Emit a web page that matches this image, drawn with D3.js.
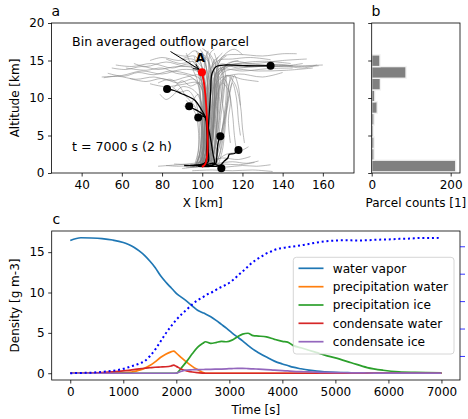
<!DOCTYPE html>
<html><head><meta charset="utf-8">
<script src="https://cdn.jsdelivr.net/npm/d3@7"></script>
<style>
html,body{margin:0;padding:0;background:#fff;}
svg text{font-family:"DejaVu Sans",sans-serif;fill:#000;}
</style></head>
<body><svg id="c" width="468" height="419"></svg>
<script>
// ---------------- DATA ----------------
// Panel a: parcel trajectories [X km, altitude km]
const grayTraj = [
 [[96,1],[100,1.2],[102,4],[102,8],[101,12],[98,13.5],[90,13.8],[80,13.2],[70,13.6],[60,13],[50,12.8]],
 [[92,0.8],[99,1],[100,5],[100.5,9],[99,13],[94,14.5],[85,14],[75,14.6],[65,14.2],[57,14.4]],
 [[98,1.1],[101,3],[101,7],[100,11],[96,12.5],[88,12],[80,12.6],[72,12.2],[64,12.6]],
 [[95,0.9],[101,1.3],[103,6],[102,10],[100,14],[95,15.2],[88,15],[80,15.4],[74,15]],
 [[100,1],[103,4],[104,9],[103,13],[99,15.8],[96,16.3],[92,15.6],[86,15.9]],
 [[99,1],[101,5],[100,9],[96,11],[90,11.5],[86,10.5],[82,9.8],[79,10.5]],
 [[97,1.2],[100,4],[99,7],[96,9],[92,10.2],[88,11.8],[84,12.5],[78,12]],
 [[94,1],[99,1.5],[101,6],[101,10],[99,12.5],[93,13.2],[84,13.6],[76,13.1],[68,13.4],[61,12.9],[53,13.3]],
 [[97,0.9],[102,2],[103,7],[102,11.5],[98,14],[90,14.3],[82,14.8],[72,14.2],[66,14.6]],
 [[99,1.1],[102,5],[102,10],[99,12],[94,11.6],[90,12.3],[86,11.4]],
 [[96,1],[100,3],[100,8],[98,10.5],[95,9.5],[93,8.5],[91,9]],
 [[101,1],[102,6],[101.5,11],[99,13],[92,12.8],[85,12.3],[76,12.8],[67,12.5],[58,12.9],[51,12.7]],
 [[100,1],[101,5],[101,10],[98,12],[90,11.8],[82,11.5],[74,11.9]],
 [[99,1],[100,6],[100,11],[97,13.8],[88,14.2],[78,13.8],[70,14.2],[62,13.8],[55,14]],
 [[98,1],[99.5,5],[99,9],[97.5,12],[93,13],[87,13.3],[80,14],[72,13.7],[62,14]],
 [[100,0.9],[101,4],[101,9],[100,13],[96,14.8],[89,14.6],[82,15.2]],
 [[99,1.2],[100,4],[100.5,8],[101,12],[99.5,14.5],[96,15.6],[90,15.2]],
 [[97,1],[98.5,4],[98,8],[96,10],[93,11],[89,10.8],[85,11.5]],
 [[96,0.9],[98,3],[98,6],[96.5,8],[94,9],[92,9.7]],
 [[101,1],[104,3],[105,8],[106,12],[110,14],[120,14.4],[135,14.2],[150,14.3],[160,14.4]],
 [[100,1.2],[104,5],[106,10],[108,13],[115,14.8],[125,14.6],[140,15],[152,15.2]],
 [[103,1],[106,4],[107,9],[109,13],[114,13.8],[128,13.6],[142,13.7],[155,14]],
 [[99,0.9],[102,3],[104,8],[105,13],[110,15.5],[118,15.8],[130,15.6],[140,15.9],[147,15.9]],
 [[104,1.1],[107,5],[108,10],[110,12.5],[118,13.2],[130,12.8],[140,13.4]],
 [[102,1],[105,6],[107,11],[108,14.5],[112,16],[116,16.5],[120,15.8]],
 [[101,0.8],[104,4],[106,9],[107,13.5],[113,14.2],[124,14.1],[138,14.5],[148,14.2],[158,14.3]],
 [[102,1.2],[105,5],[106,11],[108,13.8],[116,14.5],[130,14.9],[144,14.6]],
 [[103,1],[105,5],[107,10],[108,13],[114,14.3],[126,14.2],[138,14.4],[150,14],[157,14.4]],
 [[104,1],[106,6],[108,11],[109,13.8],[117,14.6],[130,14.4],[145,14.3]],
 [[101,1],[102.5,5],[103,10],[103.5,13.5],[108,15],[115,15.2],[124,15.4],[134,15.1]],
 [[102,1.1],[104,5],[105,9],[106,12.8],[110,13.8],[120,13.6],[132,13.9],[145,14]],
 [[103,0.9],[105,4],[106.5,9],[107,12],[112,13],[120,12.5],[128,12.2]],
 [[104,1],[105.5,5],[106,9],[106.5,13],[109,14.5],[118,14],[128,14.4],[138,14.2],[150,14.6]],
 [[98,1],[101,4],[102,9],[103,13],[104,16],[106,16.5]],
 [[100,0.8],[103,5],[103,10],[102,14],[100,16.2]],
 [[105,1],[107,6],[108,11],[107,14],[104,15.8],[100,16.6]],
 [[96,1],[100,2],[100,7],[98,12],[95,14],[92,16]],
 [[99,1],[102,3],[103,8],[104,12],[105,14.5],[108,15.5]],
 [[101,1.1],[103,6],[104,11],[103,14.8],[101,15.5]],
 [[97,0.8],[99,3],[100,7],[100,12],[97,14.2],[95,15]],
 [[103,0.9],[105,4],[106,8],[106,12],[107,15],[110,16]],
 [[100,1],[102,4],[101.5,8],[102.5,12],[101,14.5],[103,16.3]],
 [[102,1],[104,5],[105,10],[104.5,13],[106,15.2]],
 [[97,1],[99,3],[99.5,7],[99,11],[98,13.5],[96,15.5]],
 [[98,0.9],[100,2],[101,6],[101.5,10],[100.5,13],[99,15],[97,16.3]],
 [[100,1.1],[101.5,4],[102,7],[103,11],[104,14],[102,16]],
 [[101,1],[103,3],[104,7],[105,10],[106,13],[104,15.5],[101,16.4]],
 [[102,0.9],[104,3],[105.5,7],[106.5,10.5],[107,13.5],[109,15],[112,15.6]],
 [[103,1.1],[105,4],[106,8],[107.5,11.5],[108,14],[106,16]],
 [[104,1],[106,3],[107,6],[108,10],[109.5,13],[112,14.5],[118,15]],
 [[105,1.2],[107,4],[108.5,7],[109.5,10],[110,12],[111,14]],
 [[106,1],[108,4],[109,7],[110.5,10],[111,12],[109,14.2]],
 [[107,1],[109,3],[110,6],[111.5,9],[112,12],[111,14]],
 [[108,1.1],[110,3],[111,5],[112,8],[113,11],[114,13]],
 [[100,1],[102,3],[103,6],[104,10],[105,12],[104,14],[102,15.5],[98,16]],
 [[99,1],[100.5,3],[101,6],[102,9],[102.5,12],[101.5,15],[99,16.5]],
 [[103,1],[106,3],[108,8],[110,12],[113,11],[115,8],[116,5],[117,3]],
 [[104,1],[107,4],[109,9],[112,13],[116,12],[119,9],[120,6],[121,4]],
 [[102,1.2],[105,5],[107,10],[111,12.5],[114,10],[113,7],[114,4]],
 [[106,1],[108,3],[110,6],[112,9],[113,11.5],[115,13]],
 [[105,0.9],[108,2],[110,4],[111,7],[110,10],[112,12.8]],
 [[105,1],[108,4],[111,7],[113,10],[115,12],[117,10],[118,7],[119,5]],
 [[106,1.2],[109,4],[112,8],[114,11],[116,13],[118,11.5],[119,9]],
 [[82,1.0],[88,0.9],[95,1.0],[100,1.1],[108,1.3],[115,1.5],[122,1.3],[128,1.6]],
 [[90,0.6],[97,0.8],[104,0.9],[112,0.8],[120,1.0],[127,0.9],[134,1.1]],
 [[95,0.3],[105,0.4],[115,0.3],[125,0.4],[135,0.2]],
 [[78,0.9],[88,1.1],[96,1.3],[103,1.6],[110,2],[118,1.8],[124,2.2]],
 [[100,1],[106,1.5],[112,2.5],[118,2.8],[123,3.5]],
 [[86,1.2],[94,1.1],[102,1.0],[110,1.2],[118,1.1],[126,1.4]]
];
const blackTraj = [
 [[94,1.0],[99,1.1],[101.5,1.4],[102.5,4],[103.5,8],[104.2,11],[104.8,13.2],[107,14.2],[112,14.4],[122,14.3],[134,14.3]],
 [[82.5,11.2],[86,11],[89.5,10.6],[93,10.2],[96.3,9.7],[99.7,8.4],[101.5,7.5],[102.5,6.5],[103.6,5.3],[104.5,4],[105.3,2.6],[106,1.2],[104,0.9],[98,0.9]],
 [[93.5,8.9],[95.5,8.6],[98.3,8.2],[100.5,7.8],[102,7.2],[102.7,5],[103,3],[103,1.5],[101,1.0]],
 [[98,7.4],[100,7.6],[101.5,7.4],[102.2,6],[102.4,3],[102,1.4],[100,1.0]],
 [[109,4.9],[108,4.2],[107.5,3.2],[107.2,2.0],[106.8,1.3],[104,1.0],[99,0.9]],
 [[118,3.07],[116,2.6],[113.5,2.5],[112.7,2.0],[111,1.6],[110,1.3],[109,1.0],[107,0.9],[102,0.9],[97,1.0]],
 [[109.5,0.62],[108.5,0.9],[107,1.1],[105.5,1.3],[102,1.1],[96,1.0],[91,1.0]]
];
const blackEnds = [[134,14.3],[82.5,11.2],[93.5,8.9],[98,7.4],[109,4.9],[118,3.07],[109.5,0.62]];
const redTraj = [[99.85,13.43],[100.9,11.96],[102,8.85],[102.6,5.3],[102.5,2.6],[101.5,1.2],[99.85,0.82]];
const redEnd = [99.85,13.43];
const xTicksA = [40,60,80,100,120,140,160];
const yTicksA = [0,5,10,15,20];

// Panel b: histogram of parcel altitudes
const binEdges = [0.15,1.71,3.27,4.83,6.39,7.95,9.51,11.07,12.63,14.19,15.75];
const binCounts = [213,6,6,4,6,14,8,22,87,21];
const xTicksB = [0,200];

// Panel c: densities [g m-3] vs time [s]
const time = [0,200,400,600,800,1000,1100,1200,1300,1400,1500,1600,1700,1800,1900,1950,2000,2100,2200,2300,2400,2500,2550,2650,2750,2850,2950,3050,3150,3250,3350,3450,3550,3700,3850,4000,4100,4200,4350,4500,4650,4800,5000,5300,5600,5900,6200,6500,7000];
const waterVapor = [16.45,16.78,16.75,16.67,16.5,16.2,15.95,15.6,15.15,14.6,13.9,13.1,12.1,11.3,10.6,10.25,9.9,9.4,8.9,8.35,7.8,7.5,7.35,7.0,6.55,6.05,5.55,5.0,4.5,4.0,3.45,2.95,2.55,2.0,1.5,1.15,0.95,0.75,0.55,0.38,0.25,0.17,0.1,0.06,0.04,0.03,0.03,0.02,0.02];
const precipWater = [0,0,0,0,0,0.05,0.1,0.2,0.38,0.6,0.95,1.4,1.95,2.35,2.65,2.75,2.5,1.9,1.35,0.85,0.45,0.1,0,0,0,0,0,0,0,0,0,0,0,0,0,0,0,0,0,0,0,0,0,0,0,0,0,0,0];
const precipIce = [0,0,0,0,0,0,0,0,0,0,0,0,0,0,0,0,0,0.7,1.5,2.4,3.2,3.7,3.9,3.7,3.8,3.95,3.9,4.1,4.5,4.85,4.95,4.65,4.6,4.5,4.2,3.95,3.85,3.45,3.15,2.85,2.55,2.25,1.9,1.3,0.7,0.37,0.17,0.1,0.05];
const condWater = [0,0,0.02,0.08,0.16,0.28,0.36,0.45,0.54,0.62,0.68,0.74,0.77,0.8,0.9,1.0,0.85,0.5,0.3,0.15,0.07,0.02,0,0,0,0,0,0,0,0,0,0,0,0,0,0,0,0,0,0,0,0,0,0,0,0,0,0,0];
const condIce = [0,0,0,0,0,0,0,0,0,0,0,0,0,0,0,0,0.02,0.25,0.4,0.43,0.45,0.46,0.47,0.48,0.5,0.52,0.55,0.58,0.6,0.6,0.58,0.55,0.5,0.45,0.38,0.32,0.28,0.24,0.2,0.17,0.13,0.1,0.07,0.05,0.03,0.02,0.02,0.01,0.01];
const dottedTime = [0,200,400,600,800,1000,1100,1200,1300,1400,1500,1600,1700,1800,1900,2000,2100,2200,2300,2400,2500,2600,2700,2800,2900,3000,3100,3200,3300,3400,3500,3600,3700,3800,3900,4000,4200,4400,4600,4800,5000,5200,5400,5600,5800,6000,6200,6400,6600,6800,7000];
const dottedVals = [0.37,0.38,0.39,0.42,0.46,0.53,0.59,0.65,0.72,0.81,0.99,1.23,1.52,1.82,2.08,2.32,2.52,2.70,2.88,3.03,3.14,3.26,3.35,3.47,3.56,3.67,3.82,4.00,4.17,4.35,4.50,4.62,4.74,4.82,4.90,4.94,4.99,5.05,5.12,5.18,5.21,5.22,5.21,5.22,5.24,5.25,5.27,5.28,5.30,5.30,5.31];
const rightTicks = [1,2,3,4,5];
const xTicksC = [0,1000,2000,3000,4000,5000,6000,7000];
const yTicksC = [0,5,10,15];
const seriesNames = ["water vapor","precipitation water","precipitation ice","condensate water","condensate ice"];
const seriesColors = ["#1f77b4","#ff7f0e","#2ca02c","#d62728","#9467bd"];
const seriesData = [waterVapor,precipWater,precipIce,condWater,condIce];

// ---------------- DRAW ----------------
const svg = d3.select("#c");
const FS = 12;

function frame(g, x0, x1, y0, y1){
  g.append("rect").attr("x",x0).attr("y",y0).attr("width",x1-x0).attr("height",y1-y0)
   .attr("fill","none").attr("stroke","#000").attr("stroke-width",0.8);
}
function styleAxis(sel, color){
  sel.select(".domain").remove();
  sel.selectAll(".tick line").attr("stroke",color||"#000").attr("stroke-width",0.8);
  sel.selectAll(".tick text").attr("font-size",FS).attr("font-family","DejaVu Sans").attr("fill","#000");
}

// ---- Panel a ----
const A = {l:51.5, r:354, t:23, b:173};
const xa = d3.scaleLinear().domain([25,175.5]).range([A.l,A.r]);
const ya = d3.scaleLinear().domain([0,20]).range([A.b,A.t]);
const lineA = d3.line().x(d=>xa(d[0])).y(d=>ya(d[1])).curve(d3.curveCatmullRom.alpha(0.5));
const ga = svg.append("g");
ga.append("defs").append("clipPath").attr("id","clipA").append("rect")
  .attr("x",A.l).attr("y",A.t).attr("width",A.r-A.l).attr("height",A.b-A.t);
const gl = ga.append("g").attr("clip-path","url(#clipA)");
gl.selectAll("path.gray").data(grayTraj).join("path").attr("class","gray")
  .attr("d",lineA).attr("fill","none").attr("stroke","#808080").attr("stroke-opacity",0.55).attr("stroke-width",1.0);
gl.selectAll("path.blk").data(blackTraj).join("path").attr("class","blk")
  .attr("d",lineA).attr("fill","none").attr("stroke","#000").attr("stroke-width",1.3);
gl.append("path").datum(redTraj).attr("d",lineA).attr("fill","none").attr("stroke","#ff0000").attr("stroke-width",1.8);
gl.selectAll("circle.end").data(blackEnds).join("circle").attr("class","end")
  .attr("cx",d=>xa(d[0])).attr("cy",d=>ya(d[1])).attr("r",4).attr("fill","#000");
gl.append("circle").attr("cx",xa(redEnd[0])).attr("cy",ya(redEnd[1])).attr("r",4).attr("fill","#ff0000");
frame(ga,A.l,A.r,A.t,A.b);
ga.append("g").attr("transform",`translate(0,${A.b})`)
  .call(d3.axisBottom(xa).tickValues(xTicksA).tickSize(3.5).tickPadding(3.5)).call(styleAxis);
ga.append("g").attr("transform",`translate(${A.l},0)`)
  .call(d3.axisLeft(ya).tickValues(yTicksA).tickSize(3.5).tickPadding(3.5)).call(styleAxis);
ga.append("text").attr("x",(A.l+A.r)/2).attr("y",207).attr("text-anchor","middle").attr("font-size",FS).text("X [km]");
ga.append("text").attr("transform",`translate(19,${(A.t+A.b)/2}) rotate(-90)`).attr("text-anchor","middle").attr("font-size",FS).text("Altitude [km]");
ga.append("text").attr("x",51.5).attr("y",16).attr("font-size",14).text("a");
// annotation
ga.append("text").attr("x",72).attr("y",46).attr("font-size",12.6).text("Bin averaged outflow parcel");
const ax0 = 170.5, ay0 = 51.5, ax1 = xa(redEnd[0])-3, ay1 = ya(redEnd[1])-3;
ga.append("line").attr("x1",ax0).attr("y1",ay0).attr("x2",ax1).attr("y2",ay1).attr("stroke","#000").attr("stroke-width",1);
{
  const ang = Math.atan2(ay1-ay0, ax1-ax0), L=6, w=0.45;
  const p1=[ax1-L*Math.cos(ang-w), ay1-L*Math.sin(ang-w)], p2=[ax1-L*Math.cos(ang+w), ay1-L*Math.sin(ang+w)];
  ga.append("path").attr("d",`M${p1}L${ax1},${ay1}L${p2}`).attr("fill","none").attr("stroke","#000").attr("stroke-width",1);
}
ga.append("text").attr("x",200.5).attr("y",62).attr("text-anchor","middle").attr("font-size",12).attr("font-weight","bold").text("A");
ga.append("text").attr("x",72).attr("y",151).attr("font-size",12.6).text("t = 7000 s (2 h)");

// ---- Panel b ----
const B = {l:371.7, r:460, t:23, b:173};
const xb = d3.scaleLinear().domain([0,223.6]).range([B.l,B.r]);
const yb = d3.scaleLinear().domain([0,20]).range([B.b,B.t]);
const gb = svg.append("g");
gb.selectAll("rect.bar").data(binCounts).join("rect").attr("class","bar")
  .attr("x",xb(0)).attr("y",(d,i)=>yb(binEdges[i+1]))
  .attr("width",d=>xb(d)-xb(0)).attr("height",(d,i)=>yb(binEdges[i])-yb(binEdges[i+1]))
  .attr("fill","#808080").attr("stroke","#f2f2f2").attr("stroke-width",1.4);
frame(gb,B.l,B.r,B.t,B.b);
gb.append("g").attr("transform",`translate(0,${B.b})`)
  .call(d3.axisBottom(xb).tickValues(xTicksB).tickSize(3.5).tickPadding(3.5)).call(styleAxis);
gb.append("g").attr("transform",`translate(${B.l},0)`)
  .call(d3.axisLeft(yb).tickValues(yTicksA).tickSize(3.5).tickFormat("")).call(styleAxis);
gb.append("text").attr("x",(B.l+B.r)/2).attr("y",207).attr("text-anchor","middle").attr("font-size",FS).text("Parcel counts [1]");
gb.append("text").attr("x",371.5).attr("y",16).attr("font-size",14).text("b");

// ---- Panel c ----
const C = {l:51.7, r:460, t:231, b:380};
const xc = d3.scaleLinear().domain([-350,7350]).range([C.l,C.r]);
const allV = seriesData.flat();
const vmin = d3.min(allV), vmax = d3.max(allV), pad = 0.05*(vmax-vmin);
const yc = d3.scaleLinear().domain([vmin-pad, vmax+pad]).range([C.b,C.t]);
const rmin = d3.min(dottedVals), rmax = d3.max(dottedVals), rpad = 0.05*(rmax-rmin);
const yr = d3.scaleLinear().domain([rmin-rpad, rmax+rpad]).range([C.b,C.t]);
const gc = svg.append("g");
gc.append("defs").append("clipPath").attr("id","clipC").append("rect")
  .attr("x",C.l).attr("y",C.t).attr("width",C.r-C.l).attr("height",C.b-C.t);
const gcl = gc.append("g").attr("clip-path","url(#clipC)");
const lineC = (arr)=>d3.line().x((d,i)=>xc(time[i])).y(d=>yc(d)).curve(d3.curveMonotoneX)(arr);
seriesData.forEach((s,i)=>{
  gcl.append("path").attr("d",lineC(s)).attr("fill","none").attr("stroke",seriesColors[i]).attr("stroke-width",1.7);
});
// legend
const lg = gc.append("g");
lg.append("rect").attr("x",293.3).attr("y",257.3).attr("width",160.7).attr("height",96.7).attr("rx",3)
  .attr("fill","#fff").attr("fill-opacity",0.8).attr("stroke","#cccccc").attr("stroke-width",0.8);
const rowY = [268.3,286.7,305,323.3,341.7];
seriesNames.forEach((n,i)=>{
  lg.append("line").attr("x1",298.5).attr("x2",323.5).attr("y1",rowY[i]).attr("y2",rowY[i])
    .attr("stroke",seriesColors[i]).attr("stroke-width",1.7);
  lg.append("text").attr("x",332.7).attr("y",rowY[i]+4.3).attr("font-size",12.2).text(n);
});
// dotted series on twin axis
gcl.append("path").datum(dottedVals)
  .attr("d",d3.line().x((d,i)=>xc(dottedTime[i])).y(d=>yr(d)).curve(d3.curveMonotoneX))
  .attr("fill","none").attr("stroke","#0000ff").attr("stroke-width",2).attr("stroke-dasharray","2,2.8");
frame(gc,C.l,C.r,C.t,C.b);
gc.append("g").attr("transform",`translate(0,${C.b})`)
  .call(d3.axisBottom(xc).tickValues(xTicksC).tickFormat(d3.format("d")).tickSize(3.5).tickPadding(3.5)).call(styleAxis);
gc.append("g").attr("transform",`translate(${C.l},0)`)
  .call(d3.axisLeft(yc).tickValues(yTicksC).tickSize(3.5).tickPadding(3.5)).call(styleAxis);
gc.append("g").attr("transform",`translate(${C.r},0)`)
  .call(d3.axisRight(yr).tickValues(rightTicks).tickSize(5).tickFormat("")).call(s=>styleAxis(s,"#0000ff"));
gc.append("text").attr("x",(C.l+C.r)/2).attr("y",414).attr("text-anchor","middle").attr("font-size",FS).text("Time [s]");
gc.append("text").attr("transform",`translate(19,${(C.t+C.b)/2}) rotate(-90)`).attr("text-anchor","middle").attr("font-size",FS).text("Density [g m-3]");
gc.append("text").attr("x",52.5).attr("y",224).attr("font-size",14).text("c");
</script></body></html>
